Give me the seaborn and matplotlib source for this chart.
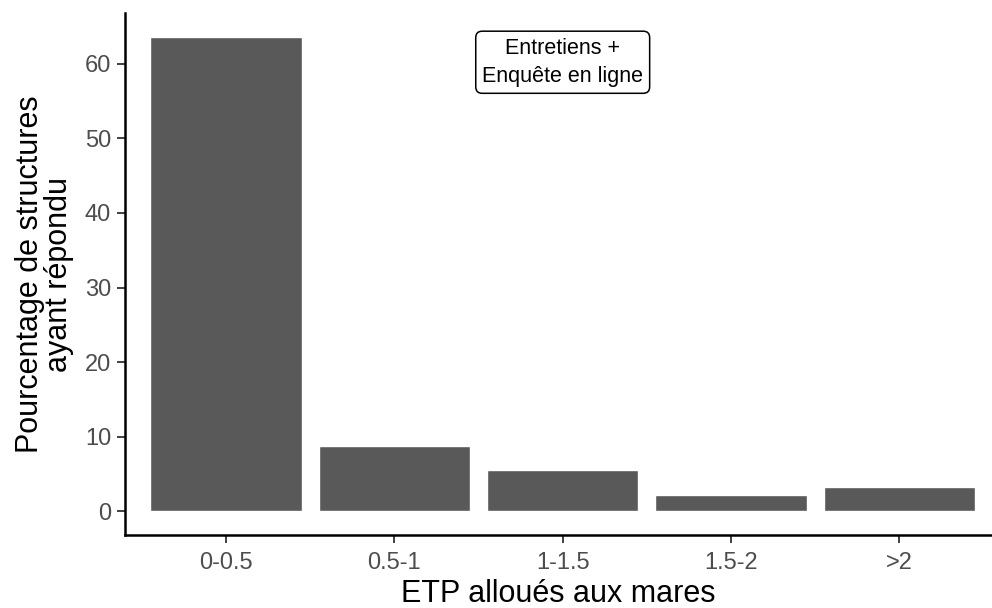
import seaborn as sns
import numpy as np
import pandas as pd
import matplotlib.pyplot as plt

# data
categories = ['0-0.5', '0.5-1', '1-1.5', '1.5-2', '>2']
percentages = [63.6, 8.8, 5.5, 2.2, 3.2]

df = pd.DataFrame({'etp': categories, 'pct': percentages})

sns.set_style('white')
plt.rcParams['font.family'] = ['Liberation Sans', 'DejaVu Sans']

fig = plt.figure(figsize=(9.92, 6.08), dpi=100)
ax = fig.add_axes([0.126, 0.12, 0.874, 0.8586])

sns.barplot(data=df, x='etp', y='pct', color='#595959', saturation=1,
            width=0.9, ax=ax)

ax.set_xlim(-0.6, 4.55)
ax.set_ylim(-3.18, 66.8)
ax.set_yticks([0, 10, 20, 30, 40, 50, 60])

for side in ['top', 'right']:
    ax.spines[side].set_visible(False)
for side in ['left', 'bottom']:
    ax.spines[side].set_color('black')
    ax.spines[side].set_linewidth(1.8)

ax.tick_params(axis='both', length=6, width=1.3, color='#333333',
               labelsize=17, labelcolor='#4D4D4D', direction='out',
               bottom=True, left=True)
ax.tick_params(axis='x', pad=6)
ax.tick_params(axis='y', pad=4)

ax.set_xlabel('ETP alloués aux mares', fontsize=22, color='black', labelpad=4)
ax.set_ylabel('Pourcentage de structures\nayant répondu', fontsize=22,
              color='black', labelpad=8, linespacing=0.95)

ax.text(2, 60.2, 'Entretiens +\nEnquête en ligne', ha='center', va='center',
        fontsize=15.5, color='black', linespacing=1.45,
        bbox=dict(boxstyle='round,pad=0.3,rounding_size=0.3',
                  facecolor='white', edgecolor='black', linewidth=1.1))

fig.savefig('out.png', dpi=100)
